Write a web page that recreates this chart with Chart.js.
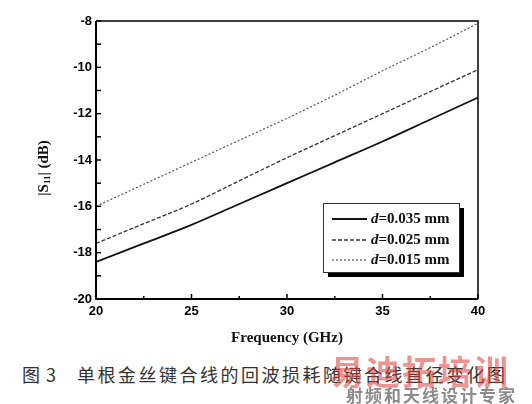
<!DOCTYPE html>
<html>
<head>
<meta charset="utf-8">
<script src="https://cdn.jsdelivr.net/npm/chart.js@4.4.1/dist/chart.umd.min.js"></script>
<style>
    html, body { margin: 0; padding: 0; background: #fff; }
    body { width: 532px; height: 404px; position: relative; overflow: hidden; }
    #wrap { position: absolute; left: 0; top: 0; width: 532px; height: 350px; }
    #caption {
        position: absolute; left: 22px; top: 361px;
        font-family: "Noto Sans CJK SC", serif; font-size: 18px; color: #333;
        letter-spacing: 2.5px; white-space: nowrap;
    }
    #caption .num { margin-right: 20px; letter-spacing: 1px; }
    #wm1 {
        position: absolute; left: 330px; top: 346px;
        font-family: "Noto Sans CJK SC", sans-serif; font-weight: bold; font-size: 34px;
        color: rgba(220, 60, 60, 0.55); letter-spacing: 2px; white-space: nowrap;
    }
    #wm2 {
        position: absolute; left: 346px; top: 382px;
        font-family: "Noto Sans CJK SC", sans-serif; font-weight: bold; font-size: 17px;
        color: rgba(110, 110, 110, 0.8); letter-spacing: 2px; white-space: nowrap;
    }
</style>
</head>
<body>
<div id="wrap"><canvas id="chart"></canvas></div>
<div id="caption"><span class="num">图 3</span>单根金丝键合线的回波损耗随键合线直径变化图</div>
<div id="wm1">易迪拓培训</div>
<div id="wm2">射频和天线设计专家</div>
<script>
        // Data
        const freqs = [20, 22.5, 25, 27.5, 30, 32.5, 35, 37.5, 40];
        const s11_035 = [-18.4, -17.6, -16.8, -15.9, -15.0, -14.1, -13.2, -12.25, -11.3];
        const s11_025 = [-17.6, -16.75, -15.9, -14.9, -13.9, -12.95, -12.0, -11.05, -10.1];
        const s11_015 = [-16.0, -15.05, -14.1, -13.15, -12.2, -11.2, -10.15, -9.15, -8.1];
        const seriesNames = ['0.035 mm', '0.025 mm', '0.015 mm'];
        const xTicks = [20, 25, 30, 35, 40];
        const yTicks = [-20, -18, -16, -14, -12, -10, -8];

        const lineStyles = [
            { color: '#111', width: 1.8, dash: [] },
            { color: '#333', width: 1.3, dash: [4, 2] },
            { color: '#555', width: 1.2, dash: [2, 2] }
        ];

        const toPoints = arr => arr.map((v, i) => ({ x: freqs[i], y: v }));

        // Frame, inward ticks, axis titles and legend
        const framePlugin = {
            id: 'frame',
            afterDraw(chart) {
                const ctx = chart.ctx;
                const a = chart.chartArea;
                const xs = chart.scales.x, ys = chart.scales.y;
                ctx.save();
                ctx.strokeStyle = '#000';

                // border
                ctx.lineWidth = 1.5;
                ctx.beginPath();
                ctx.moveTo(a.left, a.top); ctx.lineTo(a.right, a.top); ctx.lineTo(a.right, a.bottom);
                ctx.stroke();
                ctx.lineWidth = 2;
                ctx.beginPath();
                ctx.moveTo(a.left, a.top); ctx.lineTo(a.left, a.bottom); ctx.lineTo(a.right, a.bottom);
                ctx.stroke();

                // ticks pointing inward
                ctx.lineWidth = 1.5;
                for (let v = -20; v <= -8; v += 1) {
                    const y = ys.getPixelForValue(v);
                    ctx.beginPath(); ctx.moveTo(a.left, y); ctx.lineTo(a.left + 5, y); ctx.stroke();
                }
                for (let v = 20; v <= 40; v += 2.5) {
                    const x = xs.getPixelForValue(v);
                    const len = (v % 5 === 0) ? 5 : 3;
                    ctx.beginPath(); ctx.moveTo(x, a.bottom); ctx.lineTo(x, a.bottom - len); ctx.stroke();
                }

                // x title
                ctx.fillStyle = '#111';
                ctx.font = 'bold 15px "Liberation Serif"';
                ctx.textAlign = 'center';
                ctx.textBaseline = 'middle';
                ctx.fillText('Frequency (GHz)', (a.left + a.right) / 2, 338);

                // y title |S11| (dB), rotated
                ctx.save();
                ctx.translate(44, 168);
                ctx.rotate(-Math.PI / 2);
                ctx.textAlign = 'left';
                const big = 'bold 15px "Liberation Serif"';
                const small = 'bold 9px "Liberation Serif"';
                const parts = [['|S', big, 0], ['11', small, 4], ['| (dB)', big, 0]];
                let w = 0;
                parts.forEach(p => { ctx.font = p[1]; w += ctx.measureText(p[0]).width; });
                let cx = -w / 2;
                parts.forEach(p => {
                    ctx.font = p[1];
                    ctx.fillText(p[0], cx, p[2]);
                    cx += ctx.measureText(p[0]).width;
                });
                ctx.restore();

                // legend box with shadow
                const lx = 323, ly = 203, lw = 136, lh = 69;
                ctx.fillStyle = '#000';
                ctx.fillRect(lx + 5, ly + 5, lw, lh);
                ctx.fillStyle = '#fff';
                ctx.fillRect(lx, ly, lw, lh);
                ctx.lineWidth = 1;
                ctx.strokeStyle = '#333';
                ctx.strokeRect(lx + 0.5, ly + 0.5, lw, lh);

                ctx.textAlign = 'left';
                ctx.textBaseline = 'middle';
                const rows = [219, 240, 260];
                rows.forEach((ry, i) => {
                    const st = lineStyles[i];
                    ctx.strokeStyle = st.color;
                    ctx.lineWidth = st.width;
                    ctx.setLineDash(st.dash);
                    ctx.beginPath(); ctx.moveTo(332, ry); ctx.lineTo(367, ry); ctx.stroke();
                    ctx.setLineDash([]);
                    ctx.fillStyle = '#111';
                    ctx.font = 'italic bold 15px "Liberation Serif"';
                    ctx.fillText('d', 371, ry);
                    const dw = ctx.measureText('d').width;
                    ctx.font = 'bold 15px "Liberation Serif"';
                    ctx.fillText('=' + seriesNames[i], 371 + dw, ry);
                });
                ctx.restore();
            }
        };

        const ctx = document.getElementById('chart').getContext('2d');
        new Chart(ctx, {
            type: 'line',
            data: {
                datasets: [s11_035, s11_025, s11_015].map((arr, i) => ({
                    label: seriesNames[i],
                    data: toPoints(arr),
                    borderColor: lineStyles[i].color,
                    borderWidth: lineStyles[i].width,
                    borderDash: lineStyles[i].dash,
                    pointRadius: 0,
                    cubicInterpolationMode: 'monotone',
                    fill: false
                }))
            },
            options: {
                responsive: true,
                maintainAspectRatio: false,
                animation: false,
                layout: { padding: { top: 21, right: 54, left: 0, bottom: 0 } },
                plugins: {
                    legend: { display: false },
                    tooltip: { enabled: false }
                },
                scales: {
                    x: {
                        type: 'linear',
                        min: 20,
                        max: 40,
                        afterBuildTicks: s => { s.ticks = xTicks.map(v => ({ value: v })); },
                        afterFit: s => { s.height = 51; },
                        grid: { display: false, drawTicks: false },
                        border: { display: false },
                        ticks: {
                            padding: 5,
                            color: '#000',
                            font: { family: '"Liberation Sans"', weight: 'bold', size: 13 }
                        }
                    },
                    y: {
                        type: 'linear',
                        min: -20,
                        max: -8,
                        afterBuildTicks: s => { s.ticks = yTicks.map(v => ({ value: v })); },
                        afterFit: s => { s.width = 96; },
                        grid: { display: false, drawTicks: false },
                        border: { display: false },
                        ticks: {
                            padding: 4,
                            color: '#000',
                            font: { family: '"Liberation Sans"', weight: 'bold', size: 13 }
                        }
                    }
                }
            },
            plugins: [framePlugin]
        });
</script>
</body>
</html>
